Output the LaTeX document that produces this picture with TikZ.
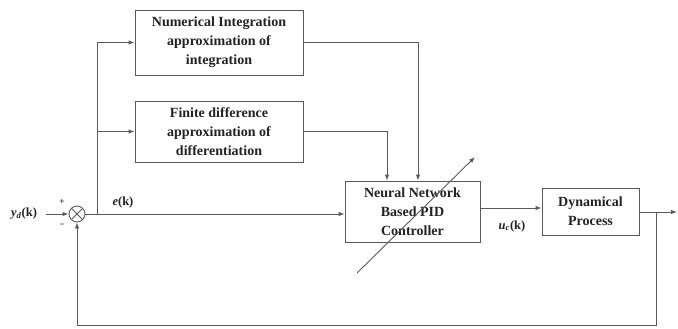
\documentclass[tikz,border=0pt]{standalone}
\usepackage{fontspec}
\setmainfont{Liberation Serif}
\usetikzlibrary{arrows.meta}
\definecolor{ln}{HTML}{5A5A5A}
\definecolor{tx}{HTML}{222222}
\tikzset{
  blk/.style={draw=ln, line width=0.9pt, align=center, text=tx, font=\bfseries\fontsize{14}{19}\selectfont, inner sep=0pt},
  wire/.style={draw=ln, line width=0.9pt},
  arr/.style={wire, -{Latex[length=6pt,width=4.5pt]}},
  lbl/.style={text=tx, font=\bfseries\fontsize{12.5}{14}\selectfont, inner sep=1pt},
  sgn/.style={text=tx, font=\bfseries\fontsize{9}{10}\selectfont, inner sep=0pt}
}
\begin{document}
\begin{tikzpicture}[x=1pt,y=-1pt]
\useasboundingbox (0,0) rectangle (678,329);
% blocks
\node[blk, minimum width=168pt, minimum height=65pt] (int) at (219,42.5) {Numerical Integration\\approximation of\\integration};
\node[blk, minimum width=168pt, minimum height=61pt] (dif) at (219,131.5) {Finite difference\\approximation of\\differentiation};
\node[blk, minimum width=135pt, minimum height=61pt] (nn) at (412.5,211.5) {Neural Network\\Based PID\\Controller};
\node[blk, minimum width=97pt, minimum height=47pt] (dyn) at (590.5,211.5) {Dynamical\\Process};
% summing junction
\node[draw=ln, line width=0.9pt, circle, minimum size=16pt, inner sep=0pt] (sum) at (77,214) {};
\draw[wire] ([shift={(-5.3pt,-5.3pt)}]sum.center) -- ([shift={(5.3pt,5.3pt)}]sum.center);
\draw[wire] ([shift={(-5.3pt,5.3pt)}]sum.center) -- ([shift={(5.3pt,-5.3pt)}]sum.center);
% labels
\node[lbl] (yd) at (24,214) {\textit{y}\textsubscript{\textit{d}}(k)};
\node[lbl] (ek) at (123,202) {\textit{e}(k)};
\node[lbl] (uc) at (512,226) {\textit{u}\textsubscript{\textit{c}}(k)};
\node[sgn] (plus) at (62,202) {+};
\node[sgn] (minus) at (62,226) {\textminus};
% coordinates
\coordinate (br) at (97,214);
\coordinate (out) at (677,212);
\coordinate (fb) at (656,212);
\coordinate (fbl) at (656,325);
\coordinate (da) at (357,273);
\coordinate (db) at (475,157);
% connectors
\draw[arr] (46,214) -- (sum.west);
\draw[arr] (sum.east) -- (sum.east -| nn.west);
\draw[arr] (br) |- (int.west);
\draw[arr] (br |- dif.west) -- (dif.west);
\draw[arr] (int.east) -| ([xshift=5.5pt]nn.north);
\draw[arr] (dif.east) -| ([xshift=-25.5pt]nn.north);
\draw[arr] ([yshift=3.5pt]nn.east) -- ([yshift=3.5pt]nn.east -| dyn.west);
\draw[arr] (dyn.east |- out) -- (out);
\draw[arr] (fb) -- (fbl) -| (sum.south);
\draw[arr] (da) -- (db);
\end{tikzpicture}
\end{document}
